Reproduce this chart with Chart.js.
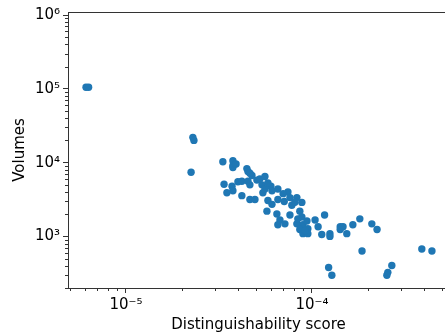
<!DOCTYPE html>
<html lang="en">
<head>
    <meta charset="UTF-8">
    <title>Volumes vs distinguishability</title>
    <script src="https://cdn.jsdelivr.net/npm/chart.js"></script>
    <style>
        html, body { margin: 0; padding: 0; background: #fff; overflow: hidden; }
        #myChart { display: block; }
    </style>
</head>
<body>
    <canvas id="myChart" width="460" height="336"></canvas>
    <script>
        // data
        var scores = [
            6.1e-6, 6.3e-6, 2.29e-5, 2.32e-5, 2.24e-5,
            3.32e-5, 3.76e-5, 3.76e-5, 3.76e-5, 4.47e-5, 4.53e-5, 4.76e-5,
            3.37e-5, 3.72e-5, 4.0e-5, 4.2e-5, 4.53e-5, 5.06e-5, 5.25e-5, 5.59e-5,
            5.39e-5, 5.45e-5, 6.02e-5, 6.10e-5, 6.56e-5, 3.49e-5, 3.76e-5, 4.2e-5,
            4.64e-5, 4.94e-5, 5.80e-5, 6.56e-5, 7.43e-5, 7.62e-5, 8.30e-5, 8.83e-5,
            6.10e-5, 5.73e-5, 6.48e-5, 6.73e-5, 6.56e-5, 7.16e-5, 7.62e-5, 7.80e-5,
            8.61e-5, 8.83e-5, 8.30e-5, 8.95e-5, 9.40e-5, 9.51e-5, 8.61e-5, 8.95e-5,
            9.51e-5, 1.04e-4, 1.08e-4, 1.13e-4, 1.17e-4, 1.25e-4, 1.25e-4, 1.42e-4,
            1.47e-4, 1.42e-4, 1.54e-4, 1.66e-4, 1.81e-4, 2.10e-4, 2.24e-4, 1.86e-4,
            3.90e-4, 4.42e-4, 1.23e-4, 1.28e-4, 2.69e-4, 2.56e-4, 2.53e-4,
            4.64e-5, 5.59e-5, 7.1e-5, 8.4e-5, 9.2e-5,
            3.91e-5, 4.64e-5, 5.8e-5, 7.0e-5, 8.1e-5
        ];
        var volumes = [
            1.05e5, 1.05e5, 2.2e4, 2.0e4, 7.4e3,
            1.03e4, 1.06e4, 9.1e3, 8.6e3, 8.3e3, 7.6e3, 6.7e3,
            5.1e3, 4.8e3, 5.5e3, 5.6e3, 5.6e3, 5.8e3, 6.0e3, 6.5e3,
            5.0e3, 3.9e3, 4.8e3, 4.15e3, 4.4e3, 3.9e3, 4.15e3, 3.57e3,
            3.16e3, 3.16e3, 3.07e3, 3.16e3, 4.0e3, 3.36e3, 3.36e3, 2.89e3,
            2.72e3, 2.20e3, 2.01e3, 1.67e3, 1.44e3, 1.48e3, 1.95e3, 2.64e3,
            2.20e3, 1.83e3, 1.48e3, 1.44e3, 1.62e3, 1.27e3, 1.24e3, 1.09e3,
            1.09e3, 1.67e3, 1.35e3, 1.06e3, 1.95e3, 1.09e3, 1.0e3, 1.35e3,
            1.35e3, 1.24e3, 1.09e3, 1.44e3, 1.73e3, 1.48e3, 1.24e3, 635,
            675, 635, 380, 298, 403, 326, 298,
            5.0e3, 4.4e3, 2.98e3, 1.73e3, 1.2e3,
            9.6e3, 7.2e3, 5.3e3, 3.8e3, 2.9e3
        ];
        var xTicks = [1e-5, 1e-4];
        var xTickLabels = ['10\u207B\u2075', '10\u207B\u2074'];
        var yTicks = [1e3, 1e4, 1e5, 1e6];
        var yTickLabels = ['10\u00B3', '10\u2074', '10\u2075', '10\u2076'];

        var points = scores.map(function (s, i) { return { x: s, y: volumes[i] }; });

        // small ticks between the decades + top spine
        var minorTicks = {
            id: 'minorTicks',
            afterDraw: function (chart) {
                var ctx = chart.ctx, area = chart.chartArea;
                ctx.save();
                ctx.strokeStyle = '#333';
                ctx.lineWidth = 1;
                ctx.beginPath();
                ctx.moveTo(area.left, area.top + 0.5);
                ctx.lineTo(area.right, area.top + 0.5);
                ctx.stroke();
                ['x', 'y'].forEach(function (id) {
                    var s = chart.scales[id];
                    for (var e = Math.floor(Math.log10(s.min)); e <= Math.ceil(Math.log10(s.max)); e++) {
                        for (var k = 2; k <= 9; k++) {
                            var v = k * Math.pow(10, e);
                            if (v < s.min || v > s.max) continue;
                            var p = Math.round(s.getPixelForValue(v)) + 0.5;
                            ctx.beginPath();
                            if (id === 'x') {
                                ctx.moveTo(p, area.bottom);
                                ctx.lineTo(p, area.bottom + 3);
                            } else {
                                ctx.moveTo(area.left, p);
                                ctx.lineTo(area.left - 3, p);
                            }
                            ctx.stroke();
                        }
                    }
                });
                ctx.restore();
            }
        };

        var ctx = document.querySelector('#myChart');
        new Chart(ctx, {
            type: 'scatter',
            data: {
                datasets: [{
                    data: points,
                    backgroundColor: '#1f77b4',
                    borderWidth: 0,
                    pointRadius: 3.7,
                    pointHoverRadius: 3.7
                }]
            },
            options: {
                responsive: false,
                animation: false,
                devicePixelRatio: 1,
                layout: { padding: { top: 4, right: 11, left: 0, bottom: 0 } },
                plugins: { legend: { display: false }, tooltip: { enabled: false } },
                scales: {
                    x: {
                        type: 'logarithmic',
                        min: 4.88e-6,
                        max: 5.46e-4,
                        afterBuildTicks: function (scale) {
                            scale.ticks = xTicks.map(function (v) { return { value: v }; });
                        },
                        afterFit: function (scale) { scale.height = 48; },
                        grid: { drawOnChartArea: false, tickLength: 5, tickColor: '#333', tickWidth: 1 },
                        border: { display: true, color: '#333', width: 1 },
                        ticks: {
                            autoSkip: false,
                            maxRotation: 0,
                            padding: 3,
                            color: '#000',
                            font: { family: 'DejaVu Sans', size: 15 },
                            callback: function (v) { return xTickLabels[xTicks.indexOf(v)]; }
                        },
                        title: {
                            display: true,
                            text: 'Distinguishability score',
                            color: '#000',
                            font: { family: 'DejaVu Sans', size: 15 },
                            padding: { top: 0, bottom: 2 }
                        }
                    },
                    y: {
                        type: 'logarithmic',
                        min: 200,
                        max: 1.1e6,
                        afterBuildTicks: function (scale) {
                            scale.ticks = yTicks.map(function (v) { return { value: v }; });
                        },
                        afterFit: function (scale) { scale.width = 68; },
                        grid: { drawOnChartArea: false, tickLength: 5, tickColor: '#333', tickWidth: 1 },
                        border: { display: true, color: '#333', width: 1 },
                        ticks: {
                            autoSkip: false,
                            padding: 3,
                            color: '#000',
                            font: { family: 'DejaVu Sans', size: 15 },
                            callback: function (v) { return yTickLabels[yTicks.indexOf(v)]; }
                        },
                        title: {
                            display: true,
                            text: 'Volumes',
                            color: '#000',
                            font: { family: 'DejaVu Sans', size: 15 },
                            padding: { top: 11, bottom: 0 }
                        }
                    }
                }
            },
            plugins: [minorTicks]
        });
    </script>
</body>
</html>
